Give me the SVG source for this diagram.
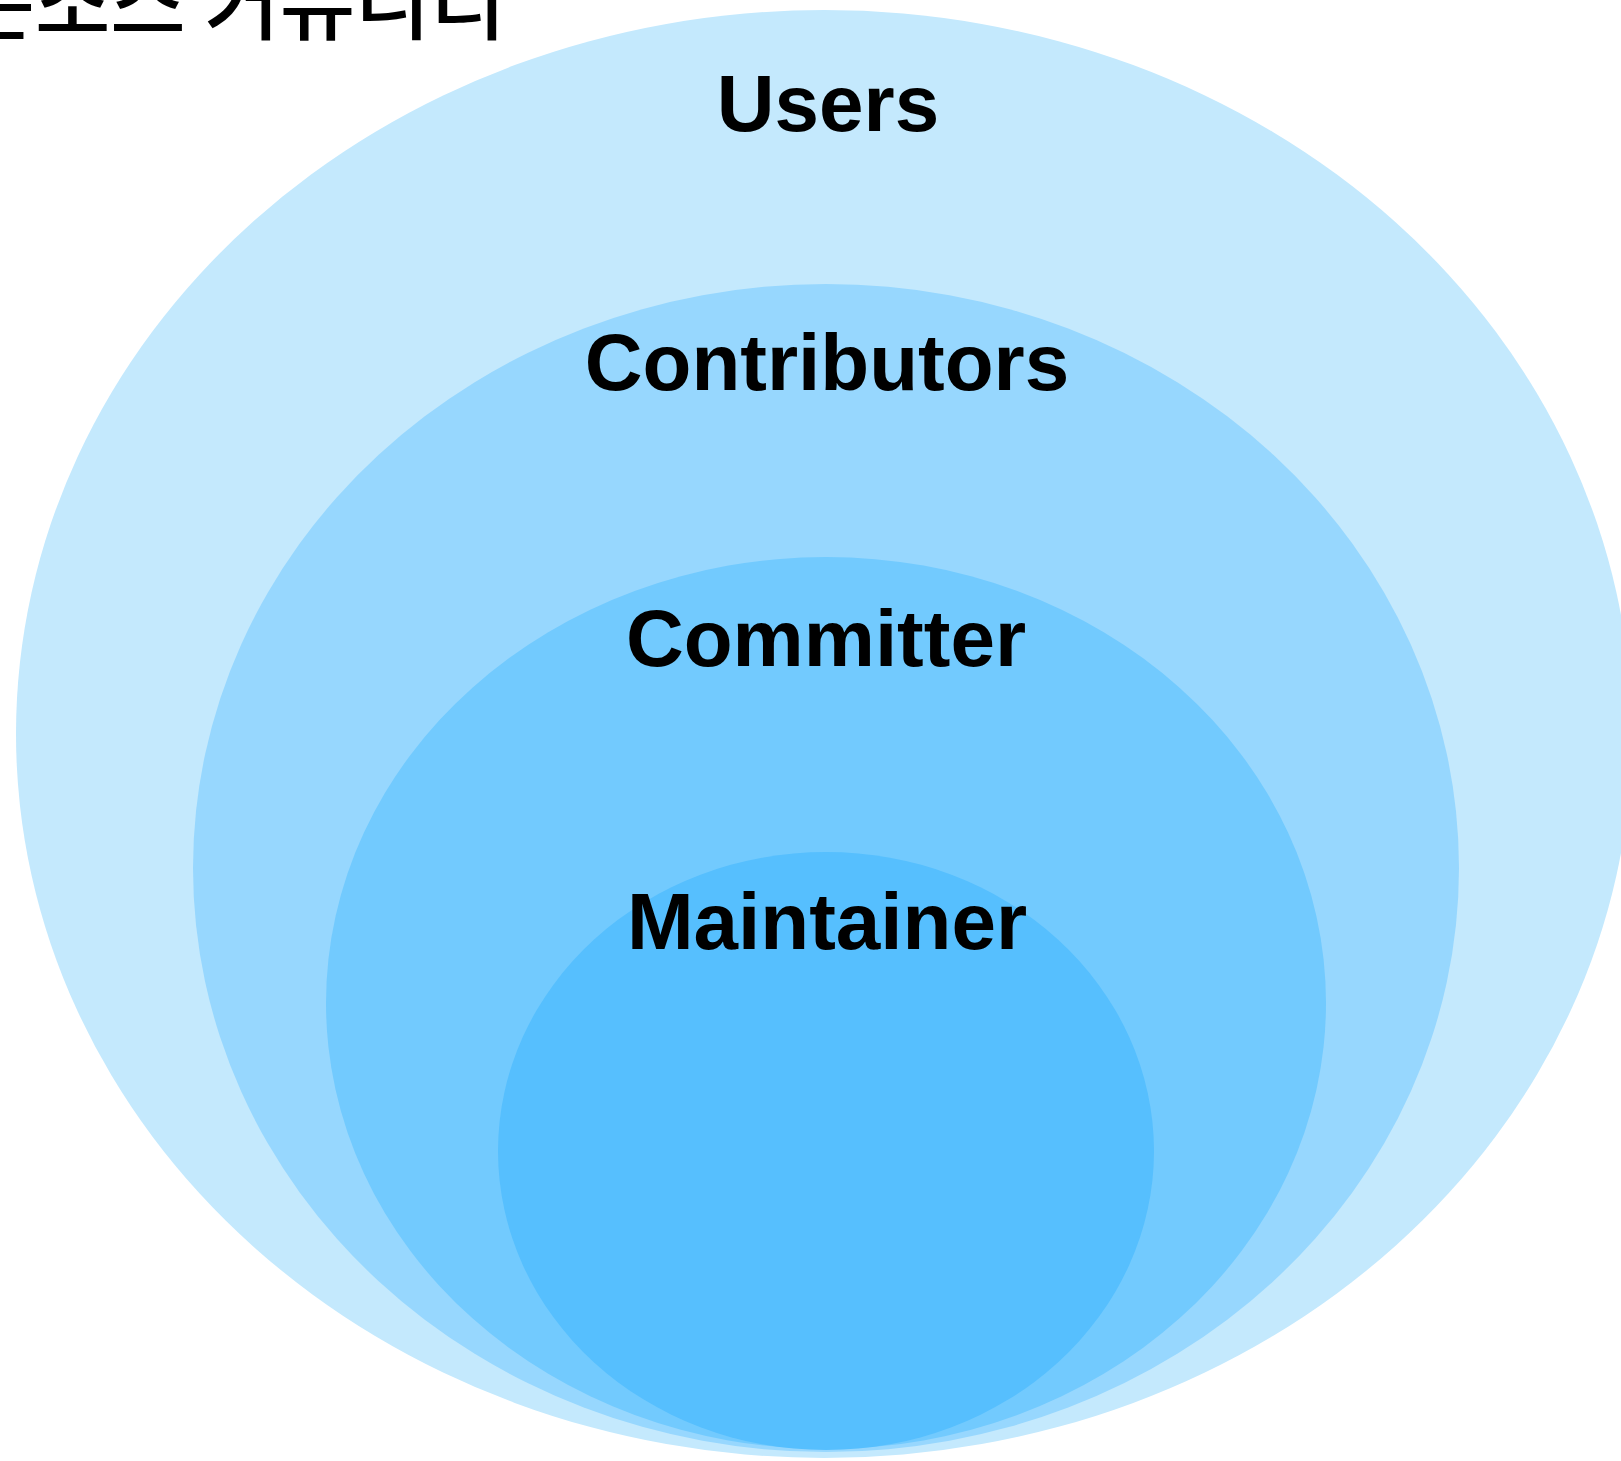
<svg xmlns="http://www.w3.org/2000/svg" width="1621" height="1461" viewBox="0 0 1621 1461">
<style>
.lbl{font-family:"Liberation Sans",Arial,sans-serif;font-weight:bold;font-size:80px;fill:#000;text-anchor:middle}
.title{font-family:"Noto Sans CJK KR","Noto Sans",sans-serif;font-size:82px;font-weight:500;fill:#000}
</style>
<rect width="1621" height="1461" fill="#ffffff"/>
<g id="users">
<ellipse cx="824" cy="734" rx="808" ry="724" fill="#c4e9fd"/>
</g>
<g id="contributors">
<ellipse cx="826" cy="868" rx="633" ry="584" fill="#97d7fe"/>
</g>
<g id="committer">
<ellipse cx="826" cy="1003" rx="500" ry="446" fill="#72cafe"/>
</g>
<g id="maintainer">
<ellipse cx="826" cy="1151" rx="328" ry="299" fill="#56bffe"/>
</g>
<g id="labels">
<text class="lbl" x="828" y="131">Users</text>
<text class="lbl" x="827" y="390">Contributors</text>
<text class="lbl" x="826" y="666">Committer</text>
<text class="lbl" x="827" y="949">Maintainer</text>
</g>
<g id="connectors"></g>
<text class="title" x="-116" y="33">오픈소스 커뮤니티</text>
</svg>
